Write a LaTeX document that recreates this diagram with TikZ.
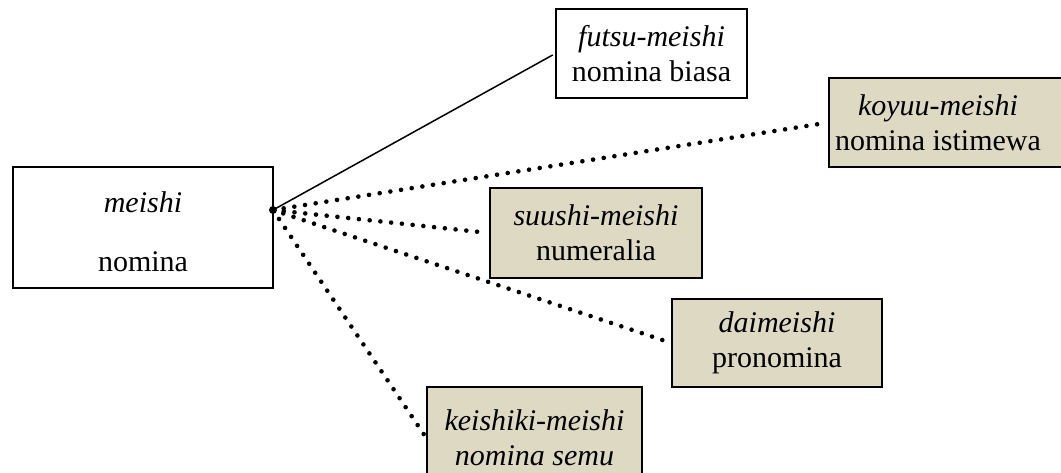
\documentclass[tikz,border=0pt]{standalone}
\usepackage{fontspec}
\setmainfont{Liberation Serif}
\usetikzlibrary{shadows}
\definecolor{boxtan}{HTML}{DDD9C3}
\begin{document}
\begin{tikzpicture}[x=1pt,y=-1pt,
  every node/.style={font=\fontsize{30}{35}\selectfont},
  cat/.style={draw, line width=1.3pt, align=center, inner sep=0pt,
    drop shadow={shadow xshift=1.3pt, shadow yshift=-1.3pt, fill=black!45, opacity=1}},
  plainbox/.style={cat, fill=white},
  tanbox/.style={cat, fill=boxtan},
  link/.style={line width=1.5pt},
  dotlink/.style={line width=4.6pt, line cap=round, dash pattern=on 0pt off 10.8pt},
]
\useasboundingbox (0,0) rectangle (1061,472);
\clip (0,0) rectangle (1061,472);

% root category
\node[plainbox, minimum width=260pt, minimum height=121pt] (meishi) at (143,227.5) {};
\node (meishitext) at (143,232) [align=center] {\textit{meishi}\\[24pt]nomina};
\coordinate (hub) at (273,210);

% subcategories
\node[plainbox, minimum width=191pt, minimum height=89pt] (futsu) at (651.5,53.5)
  {\textit{futsu-meishi}\\nomina biasa};
\node[tanbox, minimum width=290pt, minimum height=89pt] (koyuu) at (974,122.5) {};
\node (koyuutext) at (938,123) [align=center] {\textit{koyuu-meishi}\\nomina istimewa};
\node[tanbox, minimum width=212pt, minimum height=90pt] (suushi) at (596,233)
  {\textit{suushi-meishi}\\numeralia};
\node[tanbox, minimum width=210pt, minimum height=88pt] (daimei) at (777,343)
  {\textit{daimeishi}\\pronomina};
\node[tanbox, minimum width=215pt, minimum height=102pt] (keishiki) at (534.5,438)
  {\textit{keishiki-meishi}\\\textit{nomina semu}};

% connectors
\draw[link, shorten >=3pt] (hub) -- (futsu.west);
\draw[dotlink, shorten >=2pt] (hub) -- (koyuu.west);
\draw[dotlink, shorten >=2pt] (hub) -- (suushi.west);
\draw[dotlink, shorten >=2pt] (hub) -- (daimei.west);
\draw[dotlink, shorten >=2pt] (hub) -- (keishiki.west);
\fill (hub) circle (4pt);
\end{tikzpicture}
\end{document}
